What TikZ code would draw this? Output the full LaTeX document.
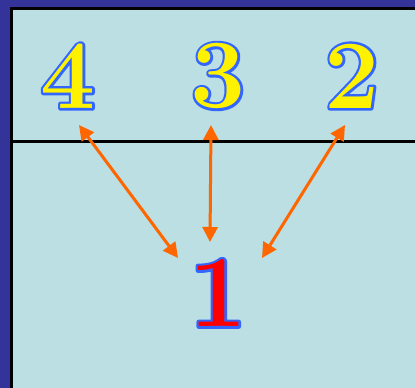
\documentclass[tikz,border=0pt]{standalone}
\usetikzlibrary{arrows.meta}
\definecolor{navy}{HTML}{333399}
\definecolor{bgc}{HTML}{BBDFE2}
\definecolor{orng}{HTML}{FF6600}
\definecolor{outl}{HTML}{3366FF}
\newcommand{\outlined}[2]{{\color{#1}\special{pdf:literal direct 2 Tr 5 w 1 j 0.2 0.4 1 RG}\rlap{#2}\special{pdf:literal direct 0 Tr}#2}}
\tikzset{
  digit/.style={inner sep=0pt, font=\fontsize{98}{98}\selectfont\bfseries},
  arr/.style={orng, line width=3pt, {Triangle[length=15pt,width=15pt]}-{Triangle[length=15pt,width=15pt]}}
}
\begin{document}
\begin{tikzpicture}[x=1pt,y=-1pt]
\fill[bgc] (0,0) rectangle (415,388);
\useasboundingbox (0,0) rectangle (415,388);
\fill[navy] (0,0) rectangle (415,7);
\fill[navy] (0,0) rectangle (10,388);
\fill[black] (10,7) rectangle (415,9.5);
\fill[black] (10,7) rectangle (12.5,388);
\fill[black] (12,140) rectangle (415,143);
\node[digit] (d4) at (68,76) {\outlined{yellow}{4}};
\node[digit] (d3) at (218,76) {\outlined{yellow}{3}};
\node[digit] (d2) at (352,76) {\outlined{yellow}{2}};
\node[digit, font=\fontsize{102}{102}\selectfont\bfseries] (d1) at (218,293) {\outlined{red}{1}};
\coordinate (a4) at (79,125);
\coordinate (b4) at (178,258);
\coordinate (a3) at (211,125);
\coordinate (b3) at (210,242);
\coordinate (a2) at (345,125);
\coordinate (b2) at (262,258);
\draw[arr] (a4) -- (b4);
\draw[arr] (a3) -- (b3);
\draw[arr] (a2) -- (b2);
\end{tikzpicture}
\end{document}
